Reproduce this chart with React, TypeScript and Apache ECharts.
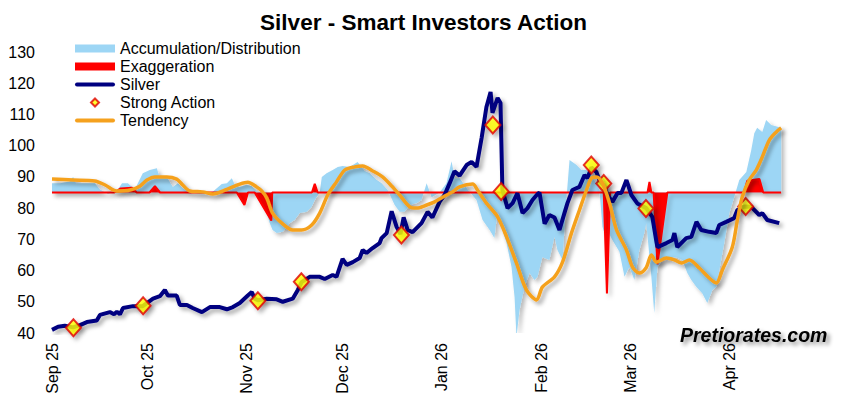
import React, { useEffect, useRef } from 'react';
import * as echarts from 'echarts';

const TITLE = 'Silver - Smart Investors Action';
const WATERMARK = 'Pretiorates.com';
const BASELINE = 85;

// x values are days since 1 Sep 2025
const START_DATE = '2025-09-01';
const TICK_DATES = ['2025-09-01', '2025-10-01', '2025-11-01', '2025-12-01', '2026-01-01', '2026-02-01', '2026-03-01', '2026-04-01'];
const TICK_LABELS = ['Sep 25', 'Oct 25', 'Nov 25', 'Dec 25', 'Jan 26', 'Feb 26', 'Mar 26', 'Apr 26'];

const AD: [number, number][] = [[0,88],[2.5,88],[5.5,88.5],[6.6,90],[7.5,88],[13.4,88],[15,86],[17.5,84.5],[20.3,85.5],[21.9,88],[23.75,88],[25.9,86],[28.4,91.2],[30.6,92.2],[32.8,92.8],[33.75,89.6],[35.9,90],[37.8,86.8],[39.4,88],[40.9,86.4],[43.1,85.2],[46.25,84.5],[50,85],[53.1,87.7],[54.7,88],[56.25,89.6],[57.2,87.5],[58.75,86.8],[60.9,87.5],[62.5,87],[65,84.2],[67.2,78.4],[68.1,75.2],[69,73],[70.3,72],[72.2,72.4],[74.4,75.2],[75.9,76.2],[77.5,78.4],[79.7,78.8],[81.25,80.4],[82.2,82.6],[83.75,85],[84.4,90],[85.9,91.2],[87.8,92.2],[89.4,93.2],[90.9,93.5],[93.1,93.2],[95.6,94.8],[97.8,91.9],[99.4,91.2],[101.6,89],[103.1,88],[105,85.8],[107.2,81],[108.75,78.8],[110.3,78.8],[111.9,81],[114.1,81.6],[115.6,82.6],[117.2,88],[118.75,83.5],[121.25,85],[123.4,88],[125,95],[126,89.5],[127.5,89.6],[130,86],[132.8,82.6],[134.7,76.2],[136.9,73],[138.4,70.4],[139.4,79.4],[140.6,74],[142.2,68.8],[143.75,61.1],[144.7,51.5],[145.3,38.7],[146.25,47.3],[147.8,54.7],[149.4,59.2],[150.9,57],[151.9,58],[153.4,64.3],[155.6,63.4],[157.2,70.8],[158.1,66.6],[159.7,63.4],[160.9,82.6],[161.9,95.4],[164.1,93.8],[165.6,92.2],[167.2,92.2],[169.1,90],[171.25,85.8],[172.2,74],[172.8,72],[173.75,73],[175.3,69.8],[177.5,66],[179.1,58],[180.6,61.1],[182.2,57],[183.75,66.6],[185.3,72],[185.9,75.2],[187.5,58],[188.4,46.4],[189.4,61.1],[190.9,63.4],[193.1,64.3],[195.3,64.3],[197.2,63.4],[198.75,59.2],[200,57],[201.6,54.7],[203.4,52.7],[205,49.6],[206.6,53.8],[207.8,54.7],[208.75,60.2],[210.3,68.8],[211.9,78.4],[213.4,83.5],[215,89],[217.2,91.6],[218.75,98.6],[219.7,104],[220.6,105.7],[222.2,104.4],[223.4,108.2],[225,106.6],[228.1,105.7]];

const EXAGGERATION: [number, number][] = [[0,85],[19.5,85],[21.5,86.3],[25,86.5],[26.5,85],[30.5,85],[32.2,87],[33.8,85],[57.8,85],[60.2,81],[61.3,85],[63.4,85],[68.6,76],[68.9,85],[81.3,85],[82.2,87.8],[83.1,85],[172.6,85],[173.6,52.7],[174.6,85],[186.3,85],[186.9,88.4],[187.5,85],[188.2,85],[189.4,62],[192.5,85],[216.5,85],[217.5,88.8],[221.3,89.3],[222.5,85],[228.1,85]];

const SILVER: [number, number][] = [[0,41],[1.9,42],[4,42.3],[6.6,41.8],[8.75,42.5],[10.9,43.5],[14,44],[15,45.8],[18.1,46.7],[19.4,46],[20.3,46.8],[21.25,46],[22.2,48],[25.3,48.6],[28.4,48.6],[31.6,51],[33.75,51.8],[35.3,53.8],[36.25,52],[39,52],[40,49],[42.2,49],[44,48],[46.9,46.7],[49.4,48.3],[52.5,48.3],[54.7,47.6],[56.6,48.3],[58.75,49.6],[61.25,52],[62.5,53.1],[63.4,51],[64.4,50.5],[67.2,51],[70.3,50.8],[72.2,50],[75.3,51],[76.9,53.8],[78.1,56.3],[80.6,58],[83.75,58],[85.3,57.3],[87.8,58.6],[89,58],[90,61],[90.9,63.7],[92.2,61.8],[94.1,62.7],[96.25,64],[97.2,66.6],[98.4,65.6],[100.3,67.2],[102.5,68.8],[103.1,70.4],[104.7,72],[106.25,79],[107.8,74],[109,71.7],[110,77],[111.25,73],[112.8,72.3],[115.6,75.2],[117.5,78.8],[119,77],[121.25,82],[122.8,84.2],[124.4,88],[125.9,91.8],[127.5,90.4],[129.7,93.8],[131.25,94.8],[132.8,93.2],[134.4,102.5],[135.9,112.4],[137.2,117.2],[137.8,110.5],[139.4,115.3],[140.3,113.7],[140.9,85.8],[142.5,80],[144.1,81.6],[145.6,84.8],[147.2,78.4],[148.75,80],[150.3,82.6],[151.9,84.5],[152.5,85],[154.1,75],[155.6,77.8],[157.2,77],[158.75,73],[160.3,78.4],[161.25,81.6],[162.8,85.8],[165,86.8],[166.6,90.6],[167.5,89.6],[168.75,93],[170.3,91.6],[171.25,89],[172.8,87],[173.75,84.2],[175.3,82],[176.9,84.8],[178.1,84.8],[179.7,89],[181.25,84.2],[183.1,81.5],[185.9,80],[187.8,77.2],[189.1,69.1],[189.4,67.5],[192.2,68.8],[194.1,69.8],[194.7,72],[195.6,67.5],[198.4,70.4],[200,70.8],[201.6,75.6],[203.1,73],[205.6,72.4],[207.8,72],[208.75,74.6],[210.9,75.6],[213.4,76.8],[214.4,79.4],[216.6,80.5],[218.75,80.4],[221.25,77.8],[222.2,78.4],[223.75,76.2],[227.5,75.2]];

const STRONG_ACTION: [number, number][] = [[6.7,41.7],[28.5,48.7],[64.4,50.3],[78,56.4],[109.3,71.4],[137.9,106.6],[140.5,85.3],[168.7,93.8],[172.6,87.9],[185.8,79.9],[217,80.5]];

const TENDENCY: [number, number][] = [[0,89.3],[6.6,89],[13.4,88.7],[16.6,87.4],[20.3,85.5],[24.4,85.8],[27.5,87],[29.7,89],[32.2,90],[35.9,90],[39,89.3],[40.9,87.4],[43.1,85.5],[47.2,85.2],[50.3,84.5],[54.7,86],[58.75,87.7],[61.25,88.3],[64,86.8],[65.6,85.5],[67.2,83.2],[69,78.4],[71.9,75.2],[75.3,73],[78.1,73],[81.25,74.6],[83.75,78.4],[86.25,84.2],[89,88.4],[91.6,92.2],[94.7,93.2],[97.2,93.5],[100.3,91.9],[103.4,90],[106.25,87.1],[108.75,84.2],[111.9,80.4],[114.1,80],[117.2,81],[119.7,82],[122.2,83.5],[125.3,85.2],[127.5,86.8],[131.6,87.7],[133.1,85.8],[135.9,81.6],[139.4,77.2],[142.2,70.8],[145.3,62.4],[148.4,53.8],[151.6,50.6],[153.4,54.7],[157.2,58],[159.7,62.7],[162.5,72],[165,79.4],[167.2,85.8],[168.75,89.6],[170.3,90],[172.2,88],[174.4,81.6],[176.6,73],[179.7,66.6],[181.6,61.1],[183.75,59.2],[185.9,61],[187.5,65],[189.1,62.7],[192.2,64],[194.7,63.4],[196.9,62.4],[199.4,63.4],[202.5,60.8],[205.6,57.6],[207.8,56],[209.7,60.2],[212.8,67.5],[214.4,76.2],[215.9,83.5],[218.1,89],[220.3,92.2],[222.2,96.4],[224.4,101.8],[226.6,104.4],[228.1,105.7]];

const AXIS_END_DAY = 239;

const COLORS = {
  blue: '#9DD6F5',
  red: '#FF0000',
  navy: '#000080',
  orange: '#F5A11E',
  yellow: '#FFFF00',
};

const FONT = 'Arial, "Liberation Sans", Helvetica, sans-serif';
const DAY = 86400000;
const dayOf = (s: string) => Math.round((Date.parse(s) - Date.parse(START_DATE)) / DAY);

const LINE_ICON = 'path://M2,0 L38,0 A2,2 0 0 1 38,4 L2,4 A2,2 0 0 1 2,0 Z';
const DIAMOND_ICON = 'path://M5,0 L10,5 L5,10 L0,5 Z';

const shadow = { shadowColor: 'rgba(0,0,0,0.35)', shadowBlur: 4, shadowOffsetX: 3, shadowOffsetY: 3 };

export default function App() {
  const ref = useRef<HTMLDivElement>(null);
  useEffect(() => {
    if (!ref.current) return;
    const chart = echarts.init(ref.current, null, { renderer: 'svg' });
    const tickDays = TICK_DATES.map(dayOf);
    chart.setOption({
      animation: false,
      backgroundColor: '#ffffff',
      title: {
        text: TITLE,
        left: 'center',
        top: 11,
        padding: [0, 0, 0, 14],
        textStyle: { fontSize: 22.5, fontWeight: 'bold', color: '#000', fontFamily: FONT },
      },
      legend: {
        orient: 'vertical',
        left: 75,
        top: 40,
        padding: 0,
        itemWidth: 40,
        itemHeight: 8,
        itemGap: 1,
        selectedMode: false,
        textStyle: { fontSize: 16, color: '#000', fontFamily: FONT, lineHeight: 17 },
        data: [
          { name: 'Accumulation/Distribution', icon: 'rect', itemStyle: { color: COLORS.blue, borderWidth: 0, shadowBlur: 0 } },
          { name: 'Exaggeration', icon: 'rect', itemStyle: { color: COLORS.red, borderWidth: 0, shadowBlur: 0 } },
          { name: 'Silver', icon: LINE_ICON, itemStyle: { color: COLORS.navy, borderWidth: 0, shadowBlur: 0 } },
          { name: 'Strong Action', icon: DIAMOND_ICON, itemStyle: { color: COLORS.yellow, borderColor: '#E00000', borderWidth: 2, shadowBlur: 0 } },
          { name: 'Tendency', icon: LINE_ICON, itemStyle: { color: COLORS.orange, borderWidth: 0, shadowBlur: 0 } },
        ],
      },
      grid: { left: 52, right: 31, top: 52, bottom: 85, containLabel: false, outerBoundsMode: 'none' },
      xAxis: {
        type: 'value',
        min: 0,
        max: AXIS_END_DAY,
        axisLine: { show: false },
        axisTick: { show: false },
        splitLine: { show: false },
        axisLabel: {
          rotate: 90,
          fontSize: 16,
          color: '#000',
          fontFamily: FONT,
          margin: 10,
          customValues: tickDays,
          formatter: (val: number) => {
            const i = tickDays.indexOf(Math.round(val));
            return i >= 0 ? TICK_LABELS[i] : '';
          },
        },
      },
      yAxis: {
        type: 'value',
        min: 40,
        max: 130,
        interval: 10,
        axisLine: { show: false },
        axisTick: { show: false },
        splitLine: { show: false },
        axisLabel: { fontSize: 16, color: '#000', fontFamily: FONT, margin: 17 },
      },
      graphic: [
        {
          type: 'text',
          left: 680,
          top: 325,
          z: 100,
          style: {
            text: WATERMARK,
            font: `italic bold 19.5px ${FONT}`,
            fill: '#000',
            textShadowColor: 'rgba(0,0,0,0.45)',
            textShadowBlur: 4,
            textShadowOffsetX: 3,
            textShadowOffsetY: 3,
          },
        },
      ],
      series: [
        {
          name: 'Accumulation/Distribution',
          type: 'line',
          data: AD,
          symbol: 'none',
          itemStyle: { color: COLORS.blue },
          lineStyle: { width: 0 },
          areaStyle: { color: COLORS.blue, opacity: 1, origin: BASELINE, ...shadow, shadowColor: 'rgba(0,0,0,0.28)' },
          z: 1,
        },
        {
          name: 'Exaggeration',
          type: 'line',
          data: EXAGGERATION,
          symbol: 'none',
          itemStyle: { color: COLORS.red },
          lineStyle: { width: 2, color: COLORS.red, ...shadow, shadowColor: 'rgba(0,0,0,0.25)' },
          areaStyle: { color: COLORS.red, opacity: 1, origin: BASELINE },
          z: 2,
        },
        {
          name: 'Silver',
          type: 'line',
          data: SILVER,
          symbol: 'none',
          itemStyle: { color: COLORS.navy },
          lineStyle: { width: 4, color: COLORS.navy, ...shadow },
          z: 3,
        },
        {
          name: 'Strong Action',
          type: 'scatter',
          data: STRONG_ACTION,
          symbol: 'diamond',
          symbolSize: [15, 17],
          itemStyle: { color: COLORS.yellow, borderColor: '#E00000', borderWidth: 2, ...shadow },
          z: 4,
        },
        {
          name: 'Tendency',
          type: 'line',
          data: TENDENCY,
          symbol: 'none',
          smooth: 0.3,
          itemStyle: { color: COLORS.orange },
          lineStyle: { width: 3.5, color: COLORS.orange, ...shadow },
          z: 5,
        },
      ],
    });
    return () => chart.dispose();
  }, []);
  return <div ref={ref} style={{ position: 'fixed', left: 0, top: 0, width: 847, height: 418 }} />;
}
